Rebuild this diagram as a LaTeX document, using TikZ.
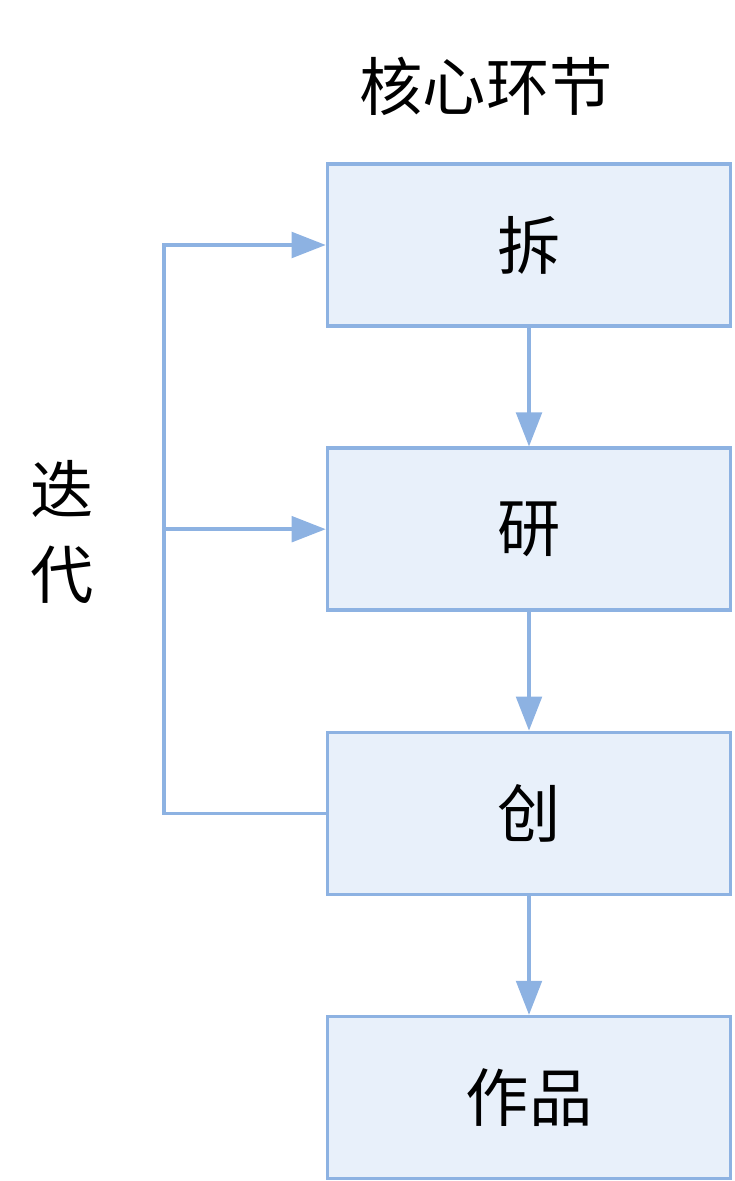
\documentclass[tikz,border=0pt]{standalone}
\usepackage{fontspec}
\usepackage{xcolor}
\usepackage{tikz}
\usetikzlibrary{arrows.meta,positioning}
\newfontfamily\cjk{Noto Sans CJK SC}
\definecolor{StepBlue}{RGB}{141,178,226}
\definecolor{StepFill}{RGB}{232,240,250}
\tikzset{
  stepbox/.style={rectangle, draw=StepBlue, fill=StepFill, line width=2.4pt,
              minimum width=10.08cm, minimum height=4.05cm,
              text centered, align=center},
  arr/.style={-{Triangle[length=0.85cm, width=0.64cm]}, line width=2.4pt, StepBlue},
}

\begin{document}
\begin{tikzpicture}[node distance=2.97cm,
    every node/.style={font=\cjk\fontsize{45}{60}\selectfont, align=center}]
        \useasboundingbox (0,0) rectangle (18.35,-29.525);
        \node at (12.15,-2.15) (title) {核心环节};
        \node[stepbox] at (13.225,-6.125) (chai) {拆};
        \node[stepbox, below=of chai] (yan) {研};
        \node[stepbox, below=of yan] (chuang) {创};
        \node[stepbox, below=of chuang] (zuopin) {作品};
        \node at (1.55,-13.3) (diedai) {迭\\代};

        \coordinate (loopbot) at (4.1,0 |- chuang.west);
        \coordinate (looptop) at (4.1,0 |- chai.west);
        \coordinate (loopmid) at (4.1,0 |- yan.west);

        \draw[arr] (chai) -- (yan);
        \draw[arr] (yan) -- (chuang);
        \draw[arr] (chuang) -- (zuopin);
        \draw[arr] (chuang.west) -- (loopbot) -- (looptop) -- (chai.west);
        \draw[arr] (loopmid) -- (yan.west);
      \end{tikzpicture}
\end{document}
